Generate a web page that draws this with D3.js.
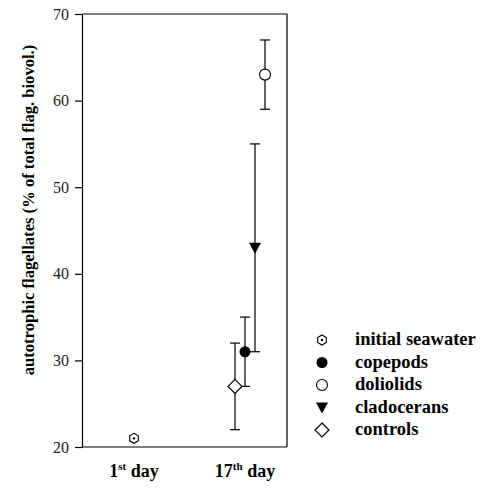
<!DOCTYPE html>
<html>
<head>
<meta charset="utf-8">
<script src="https://cdn.jsdelivr.net/npm/d3@7"></script>
<style>
  body { margin: 0; background: #fff; }
  text { font-family: "Liberation Serif", "DejaVu Serif", serif; }
</style>
</head>
<body>
<div id="chart"></div>
<script>
// data
var days = ["1st", "17th"];
var seriesNames = ["initial seawater", "copepods", "doliolids", "cladocerans", "controls"];
var seriesDay = ["1st", "17th", "17th", "17th", "17th"];
var seriesMean = [21, 31, 63, 43, 27];
var seriesLow = [null, 27, 59, 31, 22];
var seriesHigh = [null, 35, 67, 55, 32];
var seriesShift = [0, 0, 2, 1, -1]; // slot offsets so bars don't overlap
var yTicks = [20, 30, 40, 50, 60, 70];

var width = 482, height = 489;
var plotLeft = 82, plotRight = 287, plotTop = 14, plotBottom = 447;

var svg = d3.select("#chart").append("svg")
  .attr("width", width)
  .attr("height", height);

var y = d3.scaleLinear().domain([20, 70]).range([plotBottom, plotTop]);
var x = d3.scalePoint().domain(days).range([134, 245]);

// frame (top + right lines)
svg.append("path")
  .attr("d", "M" + plotLeft + "," + plotTop + "H" + plotRight + "V" + plotBottom)
  .attr("fill", "none")
  .attr("stroke", "#000")
  .attr("stroke-width", 1.2);

var yAxis = svg.append("g")
  .attr("transform", "translate(" + plotLeft + ",0)")
  .call(d3.axisLeft(y).tickValues(yTicks).tickSize(7).tickPadding(6));
yAxis.select(".domain").attr("stroke-width", 1.2);
yAxis.selectAll("line").attr("stroke-width", 1.2);
yAxis.selectAll("text")
  .attr("font-size", 16)
  .attr("font-family", "Liberation Serif, serif")
  .attr("fill", "#222");

var xAxis = svg.append("g")
  .attr("transform", "translate(0," + plotBottom + ")")
  .call(d3.axisBottom(x).tickSize(0).tickFormat(""));
xAxis.select(".domain").attr("d", "M" + plotLeft + ",0H" + plotRight).attr("stroke-width", 1.2);

// day labels with superscripts
days.forEach(function(d) {
  var t = svg.append("text")
    .attr("x", x(d))
    .attr("y", 477)
    .attr("text-anchor", "middle")
    .attr("font-size", 18)
    .attr("font-weight", "bold");
  var num = d.replace(/[a-z]+/, "");
  var suf = d.replace(/[0-9]+/, "");
  t.append("tspan").text(num);
  t.append("tspan").attr("dy", -7).attr("font-size", 11).text(suf);
  t.append("tspan").attr("dy", 7).text(" day");
});

svg.append("text")
  .attr("transform", "translate(34,210) rotate(-90)")
  .attr("text-anchor", "middle")
  .attr("font-size", 16.6)
  .attr("font-weight", "bold")
  .text("autotrophic flagellates (% of total flag. biovol.)");

function drawMarker(g, i) {
  var name = seriesNames[i];
  if (name === "initial seawater") {
    var hex = d3.range(6).map(function(k) {
      var a = Math.PI / 3 * k + Math.PI / 6;
      return [5 * Math.cos(a), 5 * Math.sin(a)];
    });
    g.append("polygon").attr("points", hex.join(" "))
      .attr("fill", "#fff").attr("stroke", "#000").attr("stroke-width", 1.1);
    g.append("circle").attr("r", 1.2).attr("fill", "#000");
  } else if (name === "copepods") {
    g.append("circle").attr("r", 5.5).attr("fill", "#000");
  } else if (name === "doliolids") {
    g.append("circle").attr("r", 5.5).attr("fill", "#fff")
      .attr("stroke", "#000").attr("stroke-width", 1.1);
  } else if (name === "cladocerans") {
    g.append("path").attr("d", "M-6,-5L6,-5L0,6Z").attr("fill", "#000");
  } else {
    g.append("path").attr("d", "M0,-7L7,0L0,7L-7,0Z")
      .attr("fill", "#fff").attr("stroke", "#000").attr("stroke-width", 1.2);
  }
}

var slot = 10;
seriesNames.forEach(function(name, i) {
  var cx = x(seriesDay[i]) + seriesShift[i] * slot;
  if (seriesLow[i] !== null) {
    var eb = svg.append("g").attr("stroke", "#000").attr("stroke-width", 1.2);
    eb.append("line").attr("x1", cx).attr("x2", cx)
      .attr("y1", y(seriesLow[i])).attr("y2", y(seriesHigh[i]));
    [seriesLow[i], seriesHigh[i]].forEach(function(v) {
      eb.append("line").attr("x1", cx - 5).attr("x2", cx + 5)
        .attr("y1", y(v)).attr("y2", y(v));
    });
  }
});
seriesNames.forEach(function(name, i) {
  var cx = x(seriesDay[i]) + seriesShift[i] * slot;
  var g = svg.append("g").attr("transform", "translate(" + cx + "," + y(seriesMean[i]) + ")");
  drawMarker(g, i);
});

// legend
var legend = svg.append("g");
seriesNames.forEach(function(name, i) {
  var ly = 340 + i * 22.5;
  var g = legend.append("g").attr("transform", "translate(322," + ly + ")");
  drawMarker(g, i);
  legend.append("text")
    .attr("x", 355)
    .attr("y", ly + 5)
    .attr("font-size", 18.5)
    .attr("font-weight", "bold")
    .text(name);
});
</script>
</body>
</html>
